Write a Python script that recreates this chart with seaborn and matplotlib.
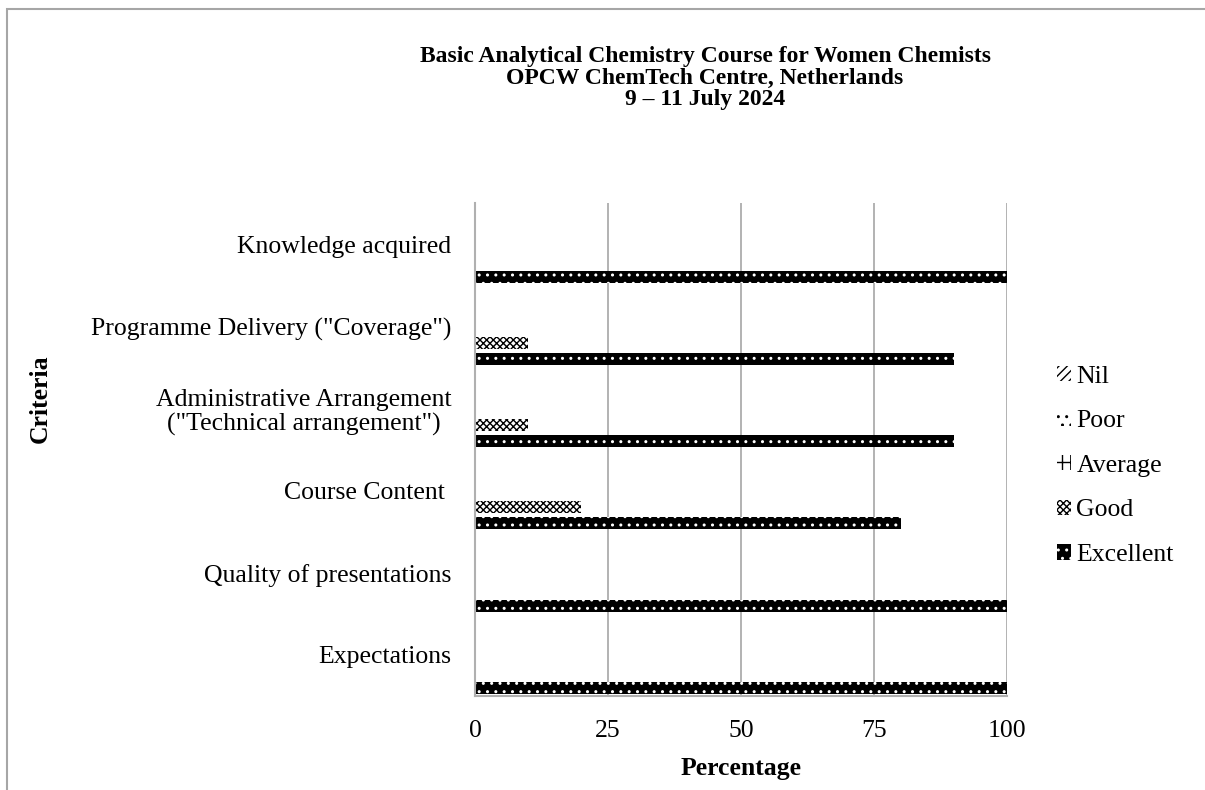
import seaborn as sns
import matplotlib.pyplot as plt
import matplotlib.patches as mpatches
import pandas as pd

# data
criteria = [
    'Knowledge acquired',
    'Programme Delivery ("Coverage")',
    'Administrative Arrangement\n("Technical arrangement")',
    'Course Content ',
    'Quality of presentations',
    'Expectations',
]
ratings = ['Nil', 'Poor', 'Average', 'Good', 'Excellent']
nil = [0, 0, 0, 0, 0, 0]
poor = [0, 0, 0, 0, 0, 0]
average = [0, 0, 0, 0, 0, 0]
good = [0, 10, 10, 20, 0, 0]
excellent = [100, 90, 90, 80, 100, 100]

rows = []
for r, vals in zip(ratings, [nil, poor, average, good, excellent]):
    for c, v in zip(criteria, vals):
        rows.append({'Criteria': c, 'Rating': r, 'Percentage': v})
df = pd.DataFrame(rows)

sns.set_style('white')
plt.rcParams['font.family'] = ['Liberation Serif', 'DejaVu Serif']
plt.rcParams['text.color'] = 'black'
plt.rcParams['xtick.color'] = 'black'
plt.rcParams['ytick.color'] = 'black'
plt.rcParams['hatch.linewidth'] = 1.0

fig = plt.figure(figsize=(12.05, 7.9), dpi=100)
ax = fig.add_axes([475 / 1205, 1 - 696 / 790, 532 / 1205, 493 / 790])

sns.barplot(data=df, y='Criteria', x='Percentage', hue='Rating',
            order=criteria, hue_order=ratings, orient='h',
            width=1.0, gap=0.27, ax=ax, legend=False, errorbar=None)

# fill patterns per series
styles = {
    'Nil': dict(facecolor='white', edgecolor='black', hatch='////'),
    'Poor': dict(facecolor='white', edgecolor='black', hatch='..'),
    'Average': dict(facecolor='white', edgecolor='black', hatch='++'),
    'Good': dict(facecolor='white', edgecolor='black', hatch='xxxxx'),
    'Excellent': dict(facecolor='black', edgecolor='white', hatch='..'),
}
for name, cont in zip(ratings, ax.containers):
    st = styles[name]
    for bar in cont:
        bar.set_facecolor(st['facecolor'])
        bar.set_edgecolor(st['edgecolor'])
        bar.set_hatch(st['hatch'])
        bar.set_linewidth(0)

ax.set_xlim(0, 100)
ax.set_xticks([0, 25, 50, 75, 100])
ax.xaxis.grid(True, color='#a6a6a6', linewidth=1.2)
ax.set_axisbelow(True)
for s in ['top', 'right']:
    ax.spines[s].set_visible(False)
for s in ['left', 'bottom']:
    ax.spines[s].set_color('#b0b0b0')
    ax.spines[s].set_linewidth(1.5)
ax.tick_params(axis='both', length=0, labelsize=18.5)
ax.tick_params(axis='y', pad=17)
ax.tick_params(axis='x', pad=17)
for lab in ax.get_yticklabels():
    lab.set_multialignment('center')
    lab.set_linespacing(1.15)
ax.set_xlabel('')
ax.set_ylabel('')

fig.text(741 / 1205, 1 - 768 / 790, 'Percentage', ha='center', va='center',
         fontsize=18.5, fontweight='bold')
fig.text(40 / 1205, 1 - 399 / 790, 'Criteria', ha='center', va='center',
         fontsize=18.5, fontweight='bold', rotation=90)
fig.text(705 / 1205, 1 - 78 / 790,
         'Basic Analytical Chemistry Course for Women Chemists\n'
         'OPCW ChemTech Centre, Netherlands\n9 \u2013 11 July 2024',
         ha='center', va='center', fontsize=17, fontweight='bold',
         linespacing=1.05)

handles = [mpatches.Patch(facecolor=styles[r]['facecolor'],
                          edgecolor=styles[r]['edgecolor'],
                          hatch=styles[r]['hatch'], linewidth=0, label=r)
           for r in ratings]
ax.legend(handles=handles, loc='center left', bbox_to_anchor=(1.094, 0.467),
          frameon=False, fontsize=18.5, handlelength=0.55, handleheight=0.55,
          handletextpad=0.2, labelspacing=0.88, borderpad=0, borderaxespad=0)

fig.patches.append(mpatches.Rectangle((7 / 1205, -0.1), 1.2, 1.1 - 9 / 790,
                                      transform=fig.transFigure, fill=False,
                                      edgecolor='#a6a6a6', linewidth=1.5))

fig.savefig('out.png', dpi=100)
